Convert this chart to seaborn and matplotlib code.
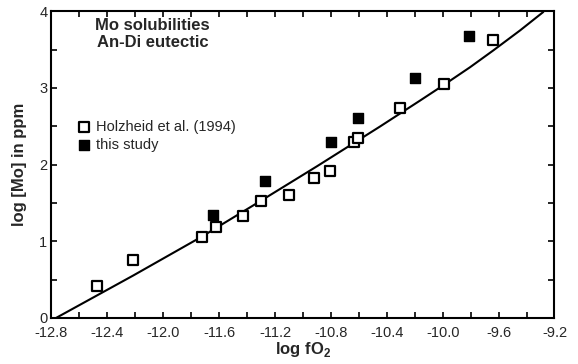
import matplotlib
matplotlib.use("Agg")
import matplotlib.pyplot as plt
import seaborn as sns
import pandas as pd
from matplotlib.ticker import MultipleLocator

# Holzheid et al. (1994) data (open squares)
holz_x = [-12.476, -12.219, -11.725, -11.622, -11.427, -11.30, -11.098, -10.921,
          -10.806, -10.635, -10.608, -10.305, -9.99, -9.642]
holz_y = [0.42, 0.75, 1.06, 1.18, 1.33, 1.53, 1.60, 1.83, 1.92, 2.29, 2.35, 2.74,
          3.05, 3.62]

# this study (filled squares)
study_x = [-11.642, -11.272, -10.801, -10.608, -10.196, -9.809]
study_y = [1.34, 1.78, 2.30, 2.61, 3.13, 3.68]

# fit curve
curve_x = [-12.768, -12.214, -11.725, -11.30, -10.90, -10.45, -10.162, -9.995,
           -9.804, -9.637, -9.446, -9.28]
curve_y = [0.0, 0.555, 1.06, 1.53, 1.978, 2.495, 2.835, 3.035, 3.27, 3.49, 3.75,
           3.99]

legend_labels = ["Holzheid et al. (1994)", "this study"]

sns.set_style("ticks")
plt.rcParams['font.family'] = ['Liberation Sans', 'DejaVu Sans']
plt.rcParams['mathtext.fontset'] = 'custom'
plt.rcParams['mathtext.rm'] = 'Liberation Sans'
plt.rcParams['mathtext.bf'] = 'Liberation Sans:bold'

fig = plt.figure(figsize=(5.78, 3.64), dpi=100)
ax = fig.add_axes([0.0891, 0.1264, 0.8702, 0.8428])

df_c = pd.DataFrame({"x": curve_x, "y": curve_y})
sns.lineplot(data=df_c, x="x", y="y", ax=ax, color="black", lw=1.5,
             sort=False, estimator=None)

df_h = pd.DataFrame({"x": holz_x, "y": holz_y})
df_s = pd.DataFrame({"x": study_x, "y": study_y})
sns.scatterplot(data=df_h, x="x", y="y", ax=ax, marker="s", s=55,
                facecolor="white", edgecolor="black", linewidth=1.6,
                label=legend_labels[0], zorder=3)
sns.scatterplot(data=df_s, x="x", y="y", ax=ax, marker="s", s=55,
                color="black", edgecolor="black", linewidth=1.0,
                label=legend_labels[1], zorder=3)

ax.set_xlim(-12.8, -9.2)
ax.set_ylim(0, 4)
ax.xaxis.set_minor_locator(MultipleLocator(0.2))
ax.yaxis.set_minor_locator(MultipleLocator(0.5))
ax.set_xticks([-12.8 + 0.4 * i for i in range(10)])
ax.set_xticklabels(["%.1f" % (-12.8 + 0.4 * i) for i in range(10)])
ax.set_yticks([0, 1, 2, 3, 4])
ax.set_yticklabels(["0", "1", "2", "3", "4"])

ax.tick_params(which="both", direction="in", top=True, right=True,
               length=4.5, width=1.2, labelsize=10.5, color="black")
ax.tick_params(axis="x", which="both", pad=6)
ax.tick_params(axis="y", which="both", pad=3)
for sp in ax.spines.values():
    sp.set_visible(True)
    sp.set_linewidth(1.5)
    sp.set_color("black")

ax.set_xlabel(r"log fO$_\mathbf{2}$", fontsize=12, fontweight="bold", labelpad=0)
ax.set_ylabel("log [Mo] in ppm", fontsize=12, fontweight="bold", labelpad=9)

ax.text(0.2008, 0.978, "Mo solubilities\nAn-Di eutectic", transform=ax.transAxes,
        ha="center", va="top", fontsize=12, fontweight="bold", linespacing=1.15)

leg = ax.legend(loc="upper left", bbox_to_anchor=(0.035, 0.665), frameon=False,
                fontsize=10.5, handletextpad=0.25, handlelength=1.2,
                labelspacing=0.3, borderaxespad=0, markerscale=0.9)

fig.savefig("out.png", dpi=100)
